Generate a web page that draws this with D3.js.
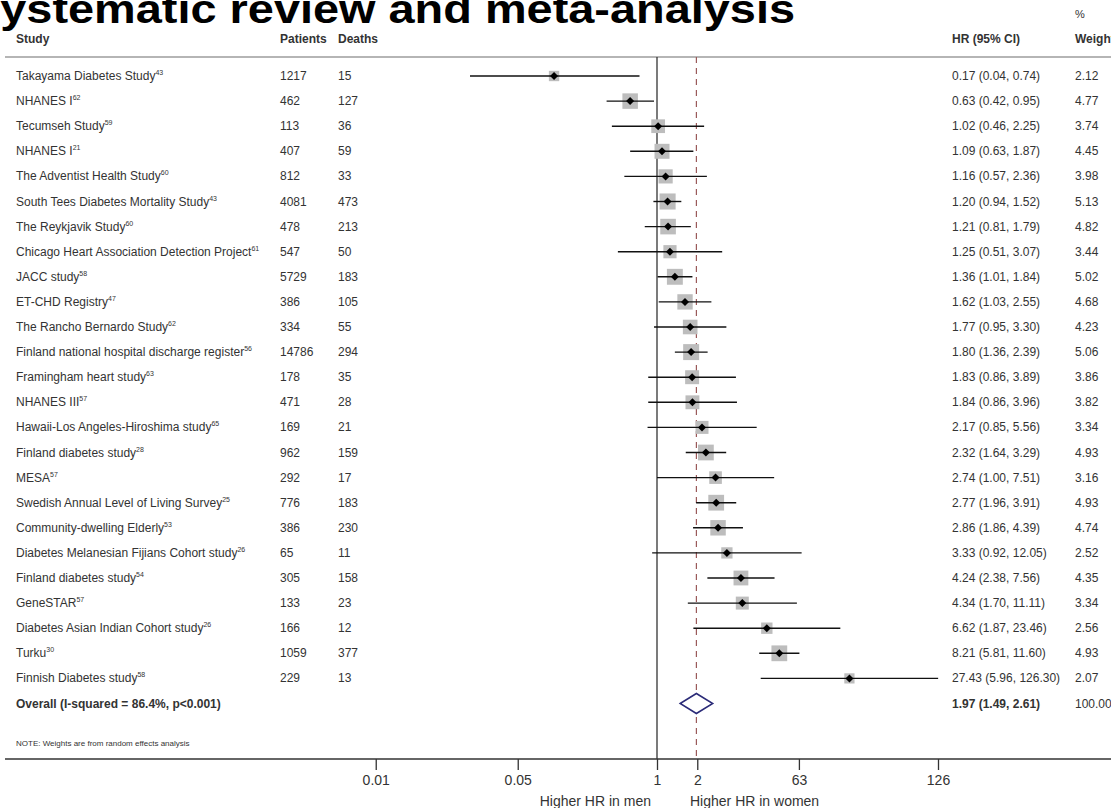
<!DOCTYPE html>
<html>
<head>
<meta charset="utf-8">
<script src="https://cdn.jsdelivr.net/npm/d3@7/dist/d3.min.js"></script>
<style>
  html, body { margin: 0; padding: 0; background: #fff; }
  svg { display: block; }
  text { font-family: "Liberation Sans", Arial, sans-serif; }
</style>
</head>
<body>
<svg id="chart" width="1111" height="808"></svg>
<script>
// ---------------- DATA ----------------
const studies = [
  "Takayama Diabetes Study", "NHANES I", "Tecumseh Study", "NHANES I",
  "The Adventist Health Study", "South Tees Diabetes Mortality Study",
  "The Reykjavik Study", "Chicago Heart Association Detection Project",
  "JACC study", "ET-CHD Registry", "The Rancho Bernardo Study",
  "Finland national hospital discharge register", "Framingham heart study",
  "NHANES III", "Hawaii-Los Angeles-Hiroshima study", "Finland diabetes study",
  "MESA", "Swedish Annual Level of Living Survey", "Community-dwelling Elderly",
  "Diabetes Melanesian Fijians Cohort study", "Finland diabetes study",
  "GeneSTAR", "Diabetes Asian Indian Cohort study", "Turku", "Finnish Diabetes study"
];
const refs = ["43","62","59","21","60","43","60","61","58","47","62","56","63","57","65","28","57","25","53","26","54","57","26","30","58"];
const patients = [1217, 462, 113, 407, 812, 4081, 478, 547, 5729, 386, 334, 14786, 178, 471, 169, 962, 292, 776, 386, 65, 305, 133, 166, 1059, 229];
const deaths = [15, 127, 36, 59, 33, 473, 213, 50, 183, 105, 55, 294, 35, 28, 21, 159, 17, 183, 230, 11, 158, 23, 12, 377, 13];
const hr = [0.17, 0.63, 1.02, 1.09, 1.16, 1.20, 1.21, 1.25, 1.36, 1.62, 1.77, 1.80, 1.83, 1.84, 2.17, 2.32, 2.74, 2.77, 2.86, 3.33, 4.24, 4.34, 6.62, 8.21, 27.43];
const ciLow = [0.04, 0.42, 0.46, 0.63, 0.57, 0.94, 0.81, 0.51, 1.01, 1.03, 0.95, 1.36, 0.86, 0.86, 0.85, 1.64, 1.00, 1.96, 1.86, 0.92, 2.38, 1.70, 1.87, 5.81, 5.96];
const ciHigh = [0.74, 0.95, 2.25, 1.87, 2.36, 1.52, 1.79, 3.07, 1.84, 2.55, 3.30, 2.39, 3.89, 3.96, 5.56, 3.29, 7.51, 3.91, 4.39, 12.05, 7.56, 11.11, 23.46, 11.60, 126.30];
const weights = [2.12, 4.77, 3.74, 4.45, 3.98, 5.13, 4.82, 3.44, 5.02, 4.68, 4.23, 5.06, 3.86, 3.82, 3.34, 4.93, 3.16, 4.93, 4.74, 2.52, 4.35, 3.34, 2.56, 4.93, 2.07];
const overallLabel = "Overall  (I-squared = 86.4%, p<0.001)";
const overallEst = [1.97, 1.49, 2.61];   // HR, low, high
const overallWeight = 100.00;
const tickValues = [0.0079, 0.091, 1, 2, 11.5, 126];
const tickLabels = ["0.01", "0.05", "1", "2", "63", "126"];
const title = "Systematic review and meta-analysis";
const noteText = "NOTE: Weights are from random effects analysis";
const leftLabel = "Higher HR in men";
const rightLabel = "Higher HR in women";

// ---------------- LAYOUT ----------------
const svg = d3.select("#chart");
const W = 1111, H = 808;
const headerLineY = 57, axisY = 759;
const rowY0 = 76, rowStep = 25.1;
const colStudy = 16, colPatients = 280, colDeaths = 338, colHR = 952, colWeight = 1075;
const textColor = "#333";

const x = d3.scaleLog().domain([1/126, 126]).range([376, 938]);
const y = d3.scaleLinear().domain([0, 1]).range([rowY0, rowY0 + rowStep]);

// Title (clipped at the top/left like the reference, horizontally stretched)
svg.append("text")
  .attr("x", -31).attr("y", 23)
  .attr("font-size", 41).attr("font-weight", "bold").attr("fill", "#000")
  .attr("textLength", 826).attr("lengthAdjust", "spacingAndGlyphs")
  .text(title);

// Headers
const hdr = svg.append("g").attr("font-size", 12).attr("font-weight", "bold").attr("fill", textColor);
hdr.append("text").attr("x", colStudy).attr("y", 43).text("Study");
hdr.append("text").attr("x", colPatients).attr("y", 43).text("Patients");
hdr.append("text").attr("x", colDeaths).attr("y", 43).text("Deaths");
hdr.append("text").attr("x", colHR).attr("y", 43).text("HR (95% CI)");
hdr.append("text").attr("x", colWeight).attr("y", 43).text("Weight");
svg.append("text").attr("x", colWeight).attr("y", 18).attr("font-size", 11).attr("fill", textColor).text("%");

// header rule
svg.append("line").attr("x1", 5).attr("x2", W).attr("y1", headerLineY).attr("y2", headerLineY)
  .attr("stroke", "#b5b5b5").attr("stroke-width", 2);

// axis rule
svg.append("line").attr("x1", 5).attr("x2", W).attr("y1", axisY).attr("y2", axisY)
  .attr("stroke", "#333").attr("stroke-width", 1.5);

// null line and overall dashed line
svg.append("line").attr("x1", x(1)).attr("x2", x(1)).attr("y1", headerLineY).attr("y2", axisY)
  .attr("stroke", "#333").attr("stroke-width", 1.3);
svg.append("line").attr("x1", x(overallEst[0])).attr("x2", x(overallEst[0]))
  .attr("y1", headerLineY).attr("y2", axisY)
  .attr("stroke", "#9a5a5a").attr("stroke-width", 1.2).attr("stroke-dasharray", "6,5");

// Axis ticks
const axis = d3.axisBottom(x).tickValues(tickValues).tickFormat((d, i) => tickLabels[i]).tickSize(11).tickPadding(5);
const ag = svg.append("g").attr("transform", `translate(0,${axisY})`).call(axis);
ag.select(".domain").remove();
ag.selectAll(".tick line").attr("stroke", "#333").attr("stroke-width", 1.3);
ag.selectAll(".tick text").attr("font-size", 14).attr("fill", textColor)
  .attr("font-family", '"Liberation Sans", Arial, sans-serif');

svg.append("text").attr("x", x(1) - 6).attr("y", 806).attr("text-anchor", "end")
  .attr("font-size", 14).attr("fill", textColor).text(leftLabel);
svg.append("text").attr("x", x(1) + 33).attr("y", 806).attr("text-anchor", "start")
  .attr("font-size", 14).attr("fill", textColor).text(rightLabel);

// Rows
const rows = studies.map((s, i) => ({ s, ref: refs[i], p: patients[i], d: deaths[i], hr: hr[i], lo: ciLow[i], hi: ciHigh[i], w: weights[i], i }));
const rg = svg.append("g").selectAll("g").data(rows).join("g")
  .attr("transform", d => `translate(0,${y(d.i)})`);

const nameT = rg.append("text").attr("x", colStudy).attr("y", 4).attr("font-size", 12).attr("fill", textColor);
nameT.append("tspan").text(d => d.s);
nameT.append("tspan").attr("font-size", 7).attr("dy", -5).text(d => d.ref);
rg.append("text").attr("x", colPatients).attr("y", 4).attr("font-size", 12).attr("fill", textColor).text(d => d.p);
rg.append("text").attr("x", colDeaths).attr("y", 4).attr("font-size", 12).attr("fill", textColor).text(d => d.d);
rg.append("text").attr("x", colHR).attr("y", 4).attr("font-size", 12).attr("fill", textColor)
  .text(d => `${d.hr.toFixed(2)} (${d.lo.toFixed(2)}, ${d.hi.toFixed(2)})`);
rg.append("text").attr("x", colWeight).attr("y", 4).attr("font-size", 12).attr("fill", textColor)
  .text(d => d.w.toFixed(2));

// weight boxes
rg.append("rect")
  .attr("x", d => x(d.hr) - 3.55 * Math.sqrt(d.w))
  .attr("y", d => -3.55 * Math.sqrt(d.w))
  .attr("width", d => 7.1 * Math.sqrt(d.w))
  .attr("height", d => 7.1 * Math.sqrt(d.w))
  .attr("fill", "#bdbdbd");
// CI lines
rg.append("line").attr("x1", d => x(d.lo)).attr("x2", d => x(d.hi)).attr("y1", 0).attr("y2", 0)
  .attr("stroke", "#111").attr("stroke-width", 1.4);
// point estimate diamonds
rg.append("path")
  .attr("d", d => { const cx = x(d.hr); return `M${cx-4},0L${cx},-4L${cx+4},0L${cx},4Z`; })
  .attr("fill", "#000");

// Overall row
const oy = y(studies.length);
svg.append("text").attr("x", colStudy).attr("y", oy + 4).attr("font-size", 12).attr("font-weight", "bold")
  .attr("fill", textColor).text(overallLabel);
svg.append("text").attr("x", colHR).attr("y", oy + 4).attr("font-size", 12).attr("font-weight", "bold")
  .attr("fill", textColor)
  .text(`${overallEst[0].toFixed(2)} (${overallEst[1].toFixed(2)}, ${overallEst[2].toFixed(2)})`);
svg.append("text").attr("x", colWeight).attr("y", oy + 4).attr("font-size", 12)
  .attr("fill", textColor).text(overallWeight.toFixed(2));
svg.append("path")
  .attr("d", `M${x(overallEst[1])},${oy}L${x(overallEst[0])},${oy-10}L${x(overallEst[2])},${oy}L${x(overallEst[0])},${oy+10}Z`)
  .attr("fill", "#fff").attr("stroke", "#2b2b78").attr("stroke-width", 1.5);

// Note
svg.append("text").attr("x", colStudy).attr("y", 746).attr("font-size", 8).attr("fill", textColor).text(noteText);
</script>
</body>
</html>
